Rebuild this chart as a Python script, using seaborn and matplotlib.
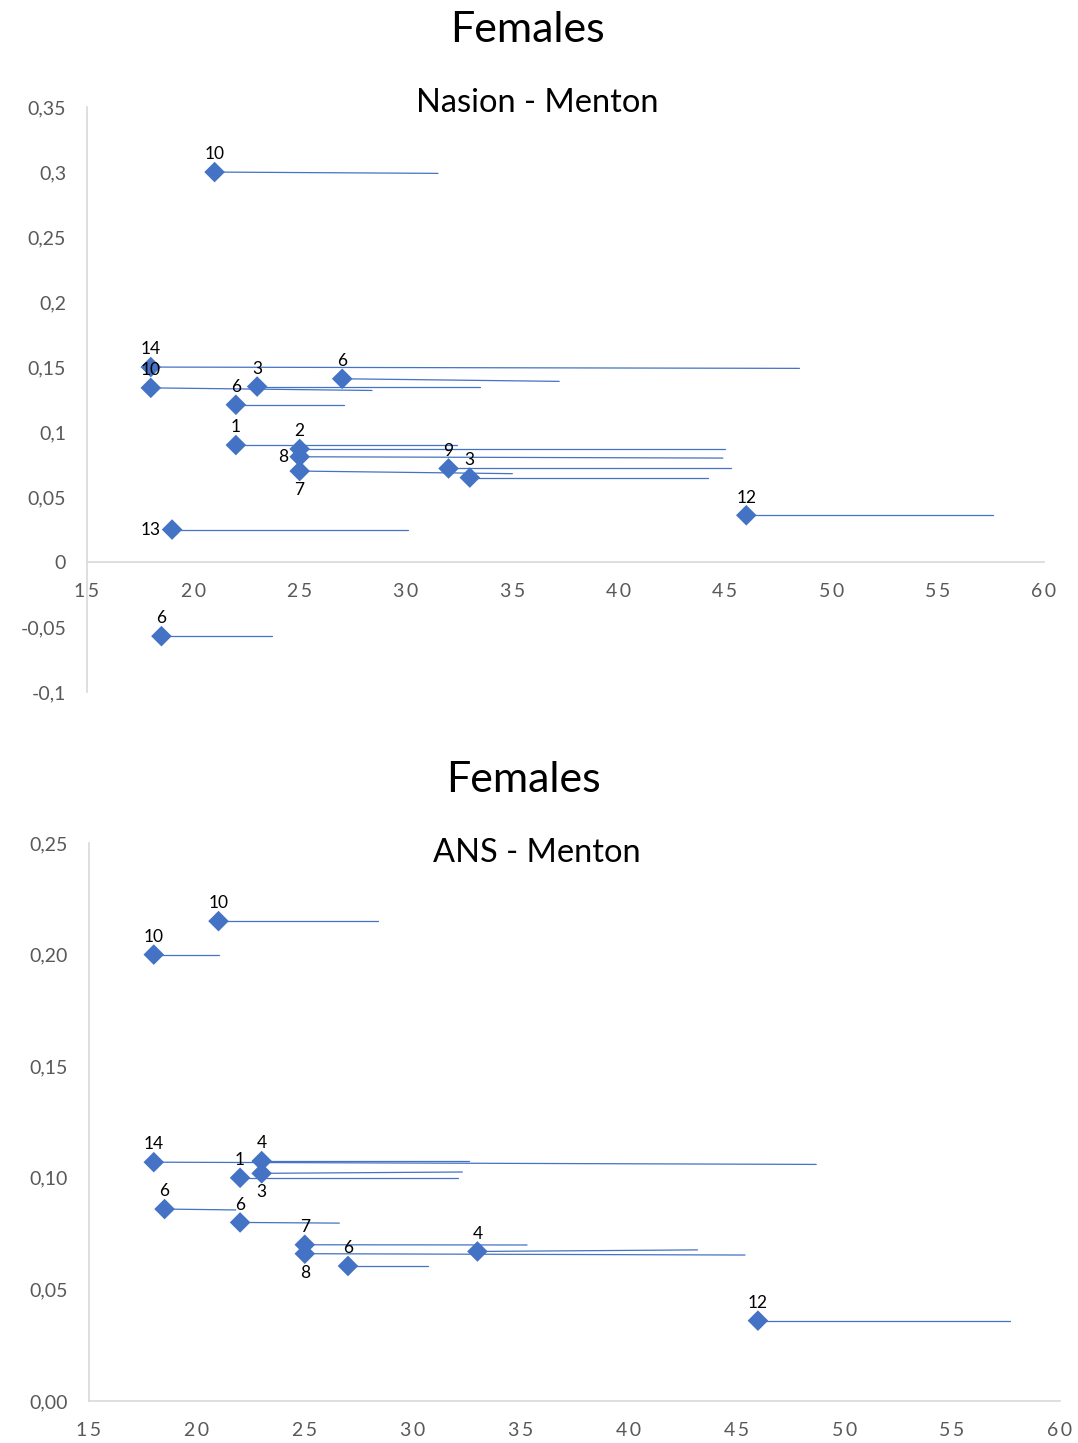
import seaborn as sns
import matplotlib.pyplot as plt
import pandas as pd

# Nasion - Menton (top panel)
nm_x = [21, 18, 18, 23, 27, 22, 22, 25, 25, 25, 32, 33, 46, 19, 18.5]
nm_y = [0.300, 0.150, 0.134, 0.135, 0.141, 0.121, 0.090, 0.087, 0.081, 0.070, 0.072, 0.065, 0.036, 0.025, -0.057]
nm_x_end = [31.5, 48.5, 28.4, 33.5, 37.2, 27.1, 32.4, 45.0, 44.9, 35.0, 45.3, 44.2, 57.6, 30.1, 23.7]
nm_y_end = [0.299, 0.149, 0.132, 0.135, 0.139, 0.121, 0.090, 0.087, 0.080, 0.068, 0.072, 0.065, 0.036, 0.025, -0.057]
nm_labels = ['10', '14', '10', '3', '6', '6', '1', '2', '8', '7', '9', '3', '12', '13', '6']
nm_yticks = [-0.1, -0.05, 0, 0.05, 0.1, 0.15, 0.2, 0.25, 0.3, 0.35]
nm_yticklabels = ['-0,1', '-0,05', '0', '0,05', '0,1', '0,15', '0,2', '0,25', '0,3', '0,35']

# ANS - Menton (bottom panel)
am_x = [21, 18, 18, 23, 23, 22, 18.5, 22, 25, 25, 33, 27, 46]
am_y = [0.215, 0.200, 0.107, 0.1075, 0.102, 0.100, 0.086, 0.080, 0.070, 0.066, 0.067, 0.0605, 0.036]
am_x_end = [28.4, 21.0, 48.7, 32.6, 32.3, 32.1, 21.8, 26.6, 35.3, 45.4, 43.2, 30.7, 57.7]
am_y_end = [0.215, 0.200, 0.106, 0.1075, 0.1026, 0.100, 0.0856, 0.0797, 0.0699, 0.0654, 0.0677, 0.0605, 0.036]
am_labels = ['10', '10', '14', '4', '3', '1', '6', '6', '7', '8', '4', '6', '12']
am_yticks = [0, 0.05, 0.1, 0.15, 0.2, 0.25]
am_yticklabels = ['0,00', '0,05', '0,10', '0,15', '0,20', '0,25']

xticks = [15, 20, 25, 30, 35, 40, 45, 50, 55, 60]

# where each label sits relative to its marker
nm_place = ['up'] * 15
nm_place[8] = 'left'
nm_place[9] = 'down'
nm_place[13] = 'left'
am_place = ['up'] * 13
am_place[4] = 'down'
am_place[9] = 'down'

sns.set_style("white")
plt.rcParams['font.family'] = ['Lato', 'DejaVu Sans']

BLUE = '#4472C4'
GRID = '#D9D9D9'
TICK = '#595959'

fig = plt.figure(figsize=(10.78, 14.43), dpi=100)
ax1 = fig.add_axes([0.0807, 0.5204, 0.8878, 0.4054])
ax2 = fig.add_axes([0.0826, 0.0291, 0.9007, 0.3867])


def draw(ax, xs, ys, xe, ye, labels, place, yticks, yticklabels):
    for a, b, c, d in zip(xs, ys, xe, ye):
        ax.plot([a, c], [b, d], color=BLUE, lw=0.9, zorder=2)
    df = pd.DataFrame({'x': xs, 'y': ys})
    sns.scatterplot(data=df, x='x', y='y', marker='D', color=BLUE, s=110,
                    edgecolor='none', ax=ax, zorder=3)
    for a, b, lab, p in zip(xs, ys, labels, place):
        if p == 'up':
            off, ha, va = (0, 7), 'center', 'bottom'
        elif p == 'down':
            off, ha, va = (0, -8), 'center', 'top'
        else:
            off, ha, va = (-8, 0), 'right', 'center'
        ax.annotate(lab, (a, b), xytext=off, textcoords='offset points',
                    ha=ha, va=va, fontsize=12.5, color='black')
    ax.set_xlim(15, 60)
    ax.set_ylim(yticks[0], yticks[-1])
    ax.set_xticks(xticks)
    # spaced digits like the original axis labels
    ax.set_xticklabels(['\u2009'.join(str(t)) for t in xticks])
    ax.set_yticks(yticks)
    ax.set_yticklabels(yticklabels)
    ax.tick_params(axis='both', length=0, labelcolor=TICK)
    ax.tick_params(axis='y', pad=15, labelsize=14)
    ax.tick_params(axis='x', pad=15, labelsize=14)
    ax.set_xlabel('')
    ax.set_ylabel('')
    for s in ['top', 'right']:
        ax.spines[s].set_visible(False)
    ax.spines['left'].set_color(GRID)
    ax.spines['bottom'].set_color(GRID)
    ax.spines['left'].set_linewidth(1.2)
    ax.spines['bottom'].set_linewidth(1.2)


draw(ax1, nm_x, nm_y, nm_x_end, nm_y_end, nm_labels, nm_place, nm_yticks, nm_yticklabels)
ax1.spines['bottom'].set_position(('data', 0))
draw(ax2, am_x, am_y, am_x_end, am_y_end, am_labels, am_place, am_yticks, am_yticklabels)

fig.text(527 / 1078, 1 - 30 / 1443, 'Females', ha='center', va='center', fontsize=31, color='black')
fig.text(537 / 1078, 1 - 103 / 1443, 'Nasion - Menton', ha='center', va='center', fontsize=23.5, color='black')
fig.text(523 / 1078, 1 - 780 / 1443, 'Females', ha='center', va='center', fontsize=31, color='black')
fig.text(537 / 1078, 1 - 853 / 1443, 'ANS - Menton', ha='center', va='center', fontsize=23.5, color='black')

fig.savefig('out.png', dpi=100)
